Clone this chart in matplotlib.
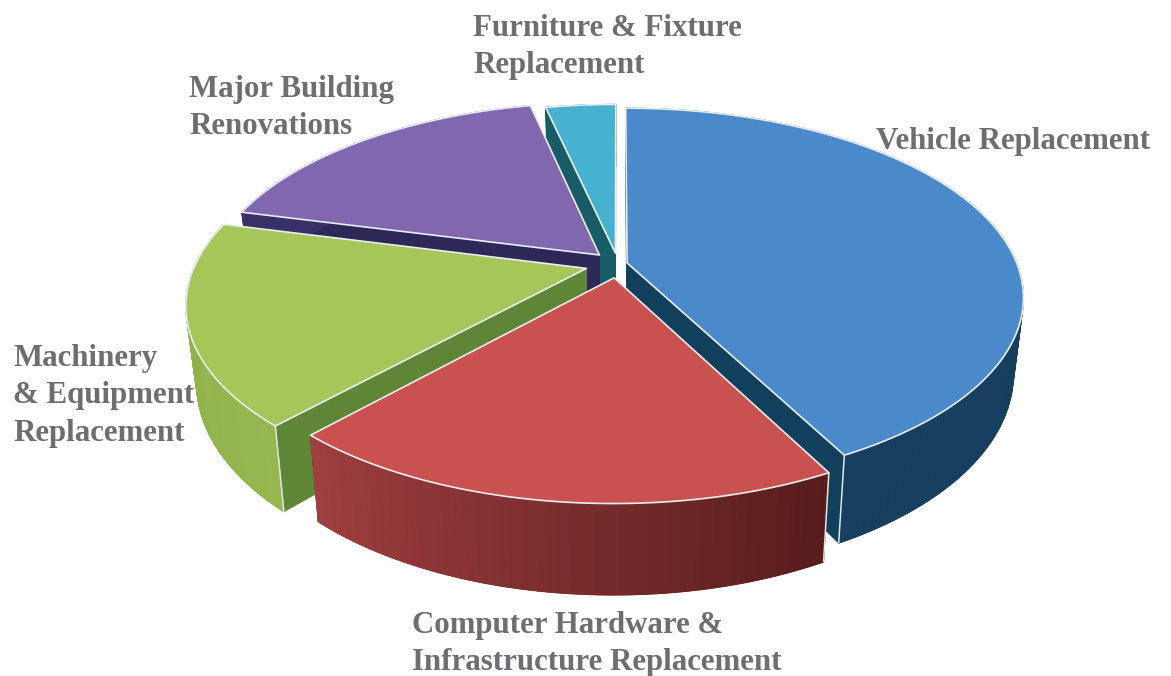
import numpy as np
import matplotlib
matplotlib.use('Agg')
import matplotlib.pyplot as plt
from matplotlib.patches import Polygon

# share of the budget, clockwise from 12 o'clock
categories = ['Vehicle Replacement',
              'Computer Hardware &\nInfrastructure Replacement',
              'Machinery\n& Equipment\nReplacement',
              'Major Building\nRenovations',
              'Furniture & Fixture\nReplacement']
shares = [42.3, 19.5, 17.2, 17.5, 3.5]

# styles per slice
explode = [0.024, 0.075, 0.084, 0.069, 0.06]
radius = [1.0, 0.985, 1.003, 1.0, 0.975]
top_colors = ['#4a8aca', '#c95150', '#a6c65a', '#8167ad', '#47b2cf']
rim_left = ['#173f5f', '#a03f40', '#8dad48', '#3a3068', '#175c66']
rim_right = ['#15405f', '#571c1c', '#97b850', '#3a3068', '#175c66']
cut_colors = ['#123f5c', '#571c1c', '#5f8636', '#2e2858', '#175c66']
corner_line = [-1, 0, 0, None, None]
label_pos = [(876, 142), (412, 644), (13, 396), (189, 108), (473, 47)]
draw_order = [4, 3, 0, 2, 1]

# projection of the tilted disc
cx, cy = 618, 264
rx, ry = 390, 183
persp = 0.18
depth = 74
taper = 0.975


def project(theta, r, off_u, off_v, lower=False):
    u = r * np.sin(theta) + off_u
    v = r * np.cos(theta) + off_v
    s = 1 / (1 + persp * v)
    x = rx * u * s
    y = -ry * v * s
    if lower:
        return cx + x * taper, cy + y + depth * s
    return cx + x, cy + y


def blend(c1, c2, t):
    a = np.array(matplotlib.colors.to_rgb(c1))
    b = np.array(matplotlib.colors.to_rgb(c2))
    return tuple(a + (b - a) * t)


def draw_slice(ax, i, start, end):
    mid = (start + end) / 2
    off_u = explode[i] * np.sin(mid)
    off_v = explode[i] * np.cos(mid)
    thetas = np.linspace(start, end, 120)
    top = np.array(project(thetas, radius[i], off_u, off_v)).T
    low = np.array(project(thetas, radius[i], off_u, off_v, lower=True)).T
    apex_top = project(0.0, 0.0, off_u, off_v)
    apex_low = project(0.0, 0.0, off_u, off_v, lower=True)

    # cut faces first
    for k in [0, -1]:
        ax.add_patch(Polygon([apex_top, top[k], low[k], apex_low],
                             closed=True, fc=cut_colors[i], ec=cut_colors[i], lw=0.5))
    # outer rim: a base shape, then thin strips so the colour can change along it
    base = blend(rim_right[i], rim_left[i], 0.5)
    ax.add_patch(Polygon(np.vstack([top, low[::-1]]), closed=True, fc=base, ec=base, lw=0.5))
    for k in range(len(thetas) - 1):
        col = blend(rim_right[i], rim_left[i], k / (len(thetas) - 2))
        ax.add_patch(Polygon([top[k], top[k + 1], low[k + 1], low[k]],
                             closed=True, fc=col, ec=col, lw=0.8))
    # light line down the front corner
    k = corner_line[i]
    if k is not None:
        ax.plot([top[k][0], low[k][0]], [top[k][1], low[k][1]],
                color='#dfe8ea', lw=1.1, solid_capstyle='butt')
    ax.add_patch(Polygon(np.vstack([[apex_top], top]), closed=True,
                         fc=top_colors[i], ec='#e8eef0', lw=1.2, joinstyle='round'))


fig = plt.figure(figsize=(11.71, 6.76), dpi=100)
ax = fig.add_axes([0, 0, 1, 1])
ax.set_xlim(0, 1171)
ax.set_ylim(676, 0)
ax.axis('off')

edges = np.concatenate([[0], np.cumsum(shares)]) / np.sum(shares) * 2 * np.pi
for i in draw_order:
    draw_slice(ax, i, edges[i], edges[i + 1])

for name, pos in zip(categories, label_pos):
    ax.text(pos[0], pos[1], name, family='Liberation Serif', fontweight='bold',
            fontsize=22.2, color='#6d6e71', ha='left', va='center', linespacing=1.4)

fig.savefig('out.png', dpi=100)
